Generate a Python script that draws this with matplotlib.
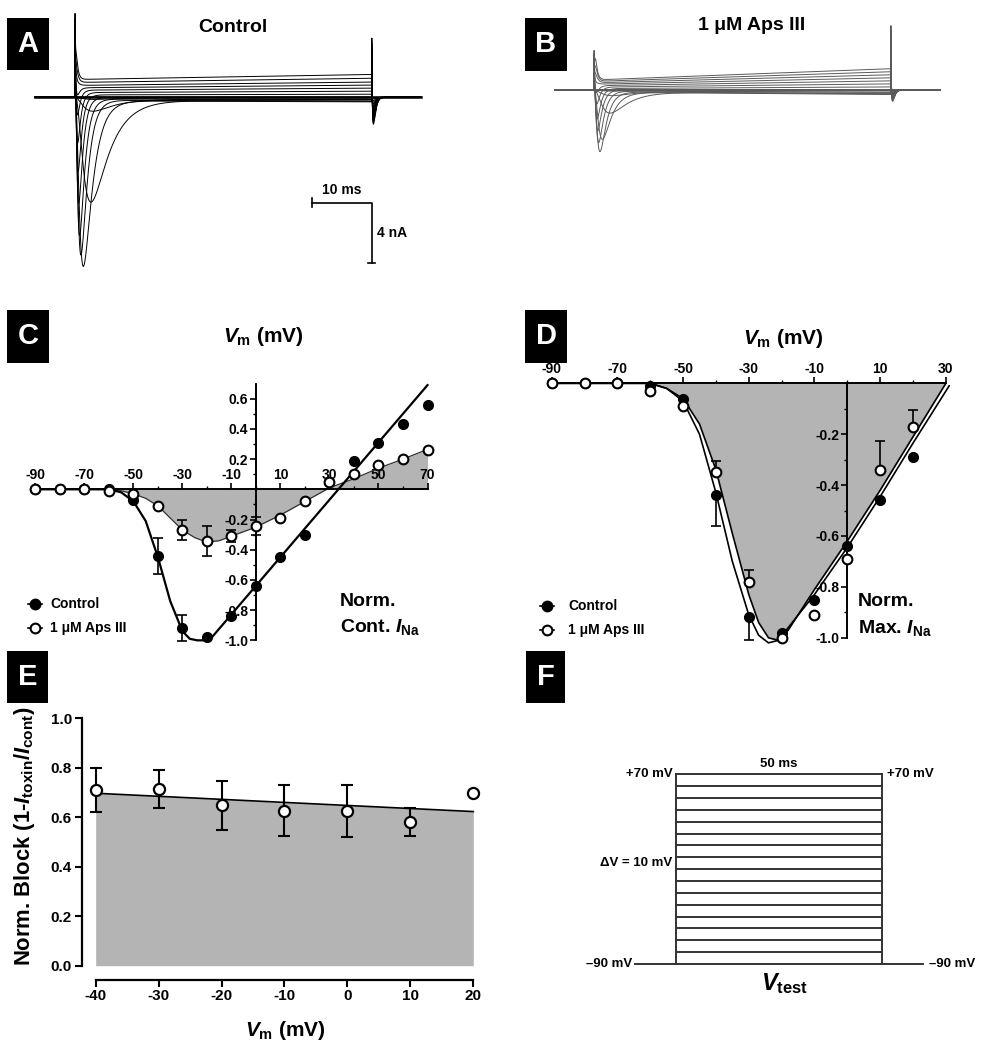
import numpy as np
import matplotlib.pyplot as plt
from matplotlib.lines import Line2D
from matplotlib.patches import Rectangle

plt.rcParams['font.family'] = ['Liberation Sans', 'DejaVu Sans']
plt.rcParams['font.weight'] = 'bold'
plt.rcParams['axes.labelweight'] = 'bold'
plt.rcParams['mathtext.fontset'] = 'custom'
plt.rcParams['mathtext.rm'] = 'Liberation Sans:bold'
plt.rcParams['mathtext.it'] = 'Liberation Sans:italic:bold'
plt.rcParams['mathtext.bf'] = 'Liberation Sans:bold'
plt.rcParams['axes.linewidth'] = 1.4

W, H = 990, 1050
GRAY = '#b4b4b4'

# ---------------- data ----------------
# sweeps of the step protocol (panel F / traces A, B)
hold_mv = -90
step_ms = 50
pre_ms = 10
sweep_mv = [-90, -80, -70, -60, -50, -40, -30, -20, -10, 0, 10, 20, 30, 40, 50, 60, 70]

ctrl_peak_na = [0, 0, 0, -0.1, -0.8, -6.7, -10.9, -10.2, -9.0, -7.0, -5.0, -3.3, -1.6, -0.4, 0.5, 1.0, 1.5]
aps_peak_na = [0, 0, 0, -0.05, -0.3, -1.4, -3.1, -3.95, -3.4, -2.7, -2.0, -1.1, -0.4, 0.2, 0.6, 1.0, 1.4]
tau_m = [1.5, 1.5, 1.5, 1.5, 1.4, 1.3, 0.7, 0.5, 0.38, 0.3, 0.25, 0.21, 0.18, 0.16, 0.14, 0.13, 0.12]
tau_h = [4.0, 4.0, 4.0, 4.0, 3.6, 3.0, 1.5, 1.05, 0.85, 0.7, 0.6, 0.52, 0.46, 0.42, 0.38, 0.35, 0.33]
ctrl_late_na = [0, 0, 0, -0.05, -0.15, -0.25, -0.3, -0.25, -0.15, 0.0, 0.2, 0.4, 0.6, 0.8, 1.0, 1.25, 1.5]
aps_late_na = [0, 0, 0, -0.05, -0.15, -0.25, -0.3, -0.25, -0.15, 0.0, 0.2, 0.4, 0.6, 0.8, 1.0, 1.2, 1.4]
ctrl_late_start = 0.78   # late current at step start, as fraction of its end value
aps_late_start = 0.47
ctrl_cap = (5.7, 4.4, 1.8)   # onset spike, offset spike up, offset dip
aps_cap = (2.7, 4.5, 0.77)
scale_ms = 10
scale_na = 4

# panel C: normalised to control peak
c_vm = [-90, -80, -70, -60, -50, -40, -30, -20, -10, 0, 10, 20, 30, 40, 50, 60, 70]
c_ctrl = [0, 0, 0, 0, -0.07, -0.44, -0.92, -0.98, -0.84, -0.64, -0.45, -0.30, 0.05, 0.19, 0.31, 0.43, 0.56]
c_ctrl_err = [0, 0, 0, 0, 0, 0.12, 0.085, 0, 0, 0, 0, 0, 0, 0, 0, 0, 0]
c_aps = [0, 0, 0, -0.01, -0.03, -0.11, -0.27, -0.34, -0.31, -0.24, -0.19, -0.08, 0.05, 0.10, 0.16, 0.20, 0.26]
c_aps_err = [0, 0, 0, 0, 0, 0, 0.065, 0.10, 0.04, 0.06, 0, 0, 0, 0, 0, 0, 0]
c_ctrl_fit_x = [-90, -60, -55, -50, -45, -40, -35, -30, -27, -24, -21, -18, 70]
c_ctrl_fit_y = [0, 0, -0.02, -0.08, -0.21, -0.45, -0.74, -0.94, -0.99, -1.0, -1.0, -0.98, 0.69]
c_aps_fit_x = [-90, -60, -55, -50, -45, -40, -35, -30, -25, -20, -15, -10, 0, 10, 20, 30, 40, 50, 60, 70]
c_aps_fit_y = [0, 0, -0.01, -0.03, -0.06, -0.11, -0.19, -0.27, -0.32, -0.35, -0.34, -0.31, -0.25,
               -0.17, -0.08, 0.01, 0.07, 0.14, 0.20, 0.265]

# panel D: each normalised to its own peak
d_vm = [-90, -80, -70, -60, -50, -40, -30, -20, -10, 0, 10, 20]
d_ctrl = [0, 0, 0, -0.01, -0.06, -0.44, -0.92, -0.98, -0.85, -0.64, -0.46, -0.29]
d_ctrl_err_lo = [0, 0, 0, 0, 0, 0.12, 0.087, 0, 0, 0, 0, 0]
d_aps = [0, 0, 0, -0.03, -0.09, -0.35, -0.78, -1.0, -0.91, -0.69, -0.34, -0.17]
d_aps_err_hi = [0, 0, 0, 0, 0, 0.046, 0.048, 0, 0, 0, 0.115, 0.067]
d_ctrl_fit_x = [-90, -60, -55, -50, -45, -40, -35, -30, -27, -24, -21, -18, -10, 0, 10, 20, 31]
d_ctrl_fit_y = [0, 0, -0.02, -0.07, -0.2, -0.43, -0.7, -0.91, -0.99, -1.02, -1.01, -0.96,
                -0.83, -0.645, -0.445, -0.235, -0.01]
d_aps_fit_x = [-90, -60, -55, -50, -45, -40, -35, -30, -27, -24, -21, -18, -10, 0, 10, 20, 30]
d_aps_fit_y = [0, 0, -0.02, -0.06, -0.16, -0.34, -0.59, -0.83, -0.94, -1.0, -1.01, -0.97,
               -0.81, -0.62, -0.42, -0.21, 0.0]

# panel E: normalised block
e_vm = [-40, -30, -20, -10, 0, 10, 20]
e_block = [0.71, 0.715, 0.648, 0.627, 0.627, 0.58, 0.70]
e_err = [0.09, 0.078, 0.10, 0.103, 0.105, 0.057, 0]
e_fit_x = [-40, 20]
e_fit_y = [0.697, 0.623]

fig = plt.figure(figsize=(W / 100, H / 100), dpi=100)


def px_axes(x0, y0, x1, y1):
    ax = fig.add_axes([x0 / W, 1 - y1 / H, (x1 - x0) / W, (y1 - y0) / H])
    ax.patch.set_visible(False)
    return ax


def panel_tag(x0, y0, x1, y1, letter):
    fig.add_artist(Rectangle((x0 / W, 1 - y1 / H), (x1 - x0) / W, (y1 - y0) / H,
                             transform=fig.transFigure, facecolor='black', edgecolor='none'))
    fig.text((x0 + x1) / 2 / W, 1 - (y0 + y1) / 2 / H, letter, color='white',
             fontsize=21, fontweight='bold', ha='center', va='center')


def legend_row(x, y, xt, filled, label):
    fig.add_artist(Line2D([(x - 7) / W, (x + 7) / W], [1 - y / H, 1 - y / H],
                          transform=fig.transFigure, color='black', lw=1.2))
    fig.add_artist(Line2D([x / W], [1 - y / H], transform=fig.transFigure,
                          marker='o', ms=7, mew=1.5, mec='black',
                          mfc='black' if filled else 'white'))
    fig.text(xt / W, 1 - y / H, label, fontsize=10, ha='left', va='center')


def trace(t, pk, tm, th, late, late0, frac, cap):
    cap_on, off_up, off_dn = cap
    cur = np.zeros_like(t)
    on = (t >= 0) & (t < step_ms)
    ts = t[on]
    g = (1 - np.exp(-ts / tm)) ** 3 * np.exp(-ts / th)
    cur[on] = (pk * g / g.max() + late * (late0 + (1 - late0) * ts / step_ms)
               * (1 - np.exp(-ts / 0.4)) + frac * cap_on * np.exp(-ts / 0.12))
    off = t >= step_ms
    to = t[off] - step_ms
    cur[off] = frac * (off_up * np.exp(-to / 0.05)
                       - off_dn * (to / 0.25) * np.exp(1 - to / 0.25))
    return cur


# ---------------- A & B: current traces ----------------
t = np.linspace(-6.74, 58.3, 13001)
axA = px_axes(30, 5, 430, 285)
axA.set_xlim(-7.58, 59.8)
axA.set_ylim(-12.35, 6.07)
axA.axis('off')
tB = np.linspace(-6.6, 58.3, 13001)
axB = px_axes(540, 5, 980, 285)
axB.set_xlim(-9.1, 65.0)
axB.set_ylim(-12.83, 5.59)
axB.axis('off')

vmax = max(sweep_mv)
for k, v in enumerate(sweep_mv):
    frac = (v - hold_mv) / (vmax - hold_mv)
    axA.plot(t, trace(t, ctrl_peak_na[k], tau_m[k], tau_h[k], ctrl_late_na[k], ctrl_late_start,
                      frac, ctrl_cap), color='black', lw=0.7)
    axB.plot(tB, trace(tB, aps_peak_na[k], tau_m[k], tau_h[k], aps_late_na[k], aps_late_start,
                       frac, aps_cap), color='#5a5a5a', lw=0.7)
axA.plot([t[0], t[-1]], [0, 0], color='black', lw=1.8)
axB.plot([tB[0], tB[-1]], [0, 0], color='#5a5a5a', lw=1.4)

# scale bar
sb_y = -6.93
axA.plot([step_ms - scale_ms, step_ms, step_ms], [sb_y, sb_y, sb_y - scale_na], color='black', lw=1.2)
axA.plot([step_ms - scale_ms] * 2, [sb_y - 0.3, sb_y + 0.3], color='black', lw=1.2)
axA.plot([step_ms - 0.6, step_ms + 0.6], [sb_y - scale_na] * 2, color='black', lw=1.2)
axA.text(step_ms - scale_ms / 2, sb_y + 0.8, f'{scale_ms} ms', ha='center', va='center', fontsize=10)
axA.text(step_ms + 0.8, sb_y - 2.0, f'{scale_na} nA', ha='left', va='center', fontsize=10)

fig.text(233 / W, 1 - 28 / H, 'Control', fontsize=14, ha='center', va='center')
fig.text(752 / W, 1 - 25 / H, '1 \u03bcM Aps III', fontsize=14, ha='center', va='center')


def iv_axes(ax, xt, xmt, yt, ymt, xb, yb):
    ax.spines['right'].set_visible(False)
    ax.spines['bottom'].set_visible(False)
    ax.spines['top'].set_position(('data', 0))
    ax.spines['left'].set_position(('data', 0))
    ax.spines['top'].set_bounds(*xb)
    ax.spines['left'].set_bounds(*yb)
    ax.xaxis.set_ticks_position('top')
    ax.set_xticks(xt, labels=[str(v) for v in xt])
    ax.set_xticks(xmt, minor=True)
    ax.set_yticks(yt, labels=[f'{v:.1f}' for v in yt])
    ax.set_yticks(ymt, minor=True)
    ax.tick_params(which='major', direction='out', length=4, width=1.2, labelsize=10, pad=1.5)
    ax.tick_params(which='minor', direction='out', length=2.5, width=1.0)


# ---------------- C ----------------
axC = px_axes(20, 375, 440, 650)
axC.set_xlim(-96.3, 75.1)
axC.set_ylim(-1.064, 0.757)
axC.fill_between(c_aps_fit_x, c_aps_fit_y, 0, color=GRAY, lw=0, zorder=1)
axC.plot(c_aps_fit_x, c_aps_fit_y, color='#333333', lw=0.9, zorder=2)
axC.plot(c_ctrl_fit_x, c_ctrl_fit_y, color='black', lw=1.6, zorder=2)
iv_axes(axC, [-90, -70, -50, -30, -10, 10, 30, 50, 70], [-80, -60, -40, -20, 0, 20, 40, 60],
        [-1.0, -0.8, -0.6, -0.4, -0.2, 0.2, 0.4, 0.6],
        [-0.9, -0.7, -0.5, -0.3, -0.1, 0.1, 0.3, 0.5], (-90, 70), (-1.0, 0.7))
axC.errorbar(c_vm, c_ctrl, yerr=c_ctrl_err, fmt='none', ecolor='black', elinewidth=1.2,
             capsize=3.5, capthick=1.2, zorder=3)
axC.errorbar(c_vm, c_aps, yerr=c_aps_err, fmt='none', ecolor='black', elinewidth=1.2,
             capsize=3.5, capthick=1.2, zorder=3)
axC.plot(c_vm, c_ctrl, 'o', ms=7, color='black', zorder=4, clip_on=False)
axC.plot(c_vm, c_aps, 'o', ms=7, mfc='white', mec='black', mew=1.5, zorder=5, clip_on=False)
fig.text(263 / W, 1 - 337 / H, '$V_\\mathrm{m}$ (mV)', fontsize=15, ha='center', va='center')
fig.text(340 / W, 1 - 602 / H, 'Norm.', fontsize=14, ha='left', va='center')
fig.text(340 / W, 1 - 627 / H, 'Cont. $I_\\mathrm{Na}$', fontsize=14, ha='left', va='center')
legend_row(35, 604, 50, True, 'Control')
legend_row(35, 628, 50, False, '1 \u03bcM Aps III')

# ---------------- D ----------------
axD = px_axes(530, 360, 960, 650)
axD.set_xlim(-96.6, 34.3)
axD.set_ylim(-1.048, 0.0916)
axD.fill_between(d_aps_fit_x, d_aps_fit_y, 0, color=GRAY, lw=0, zorder=1)
axD.plot(d_aps_fit_x, d_aps_fit_y, color='black', lw=1.2, zorder=2)
axD.plot(d_ctrl_fit_x, d_ctrl_fit_y, color='black', lw=1.2, zorder=2)
iv_axes(axD, [-90, -70, -50, -30, -10, 10, 30], [-80, -60, -40, -20, 0, 20],
        [-1.0, -0.8, -0.6, -0.4, -0.2], [-0.9, -0.7, -0.5, -0.3, -0.1], (-90, 30), (-1.0, 0))
axD.errorbar(d_vm, d_ctrl, yerr=[d_ctrl_err_lo, [0] * len(d_vm)], fmt='none', ecolor='black',
             elinewidth=1.2, capsize=3.5, capthick=1.2, zorder=3)
axD.errorbar(d_vm, d_aps, yerr=[[0] * len(d_vm), d_aps_err_hi], fmt='none', ecolor='black',
             elinewidth=1.2, capsize=3.5, capthick=1.2, zorder=3)
axD.plot(d_vm, d_ctrl, 'o', ms=7, color='black', zorder=4, clip_on=False)
axD.plot(d_vm, d_aps, 'o', ms=7, mfc='white', mec='black', mew=1.5, zorder=5, clip_on=False)
fig.text(783 / W, 1 - 338 / H, '$V_\\mathrm{m}$ (mV)', fontsize=15, ha='center', va='center')
fig.text(858 / W, 1 - 602 / H, 'Norm.', fontsize=14, ha='left', va='center')
fig.text(858 / W, 1 - 628 / H, 'Max. $I_\\mathrm{Na}$', fontsize=14, ha='left', va='center')
legend_row(547, 606, 568, True, 'Control')
legend_row(547, 630, 568, False, '1 \u03bcM Aps III')

# ---------------- E ----------------
axE = px_axes(81.7, 710, 490, 965.7)
axE.set_xlim(-42.22, 22.65)
axE.set_ylim(0, 1.0335)
axE.fill_between(e_fit_x, e_fit_y, 0, color=GRAY, lw=0, zorder=1)
axE.plot(e_fit_x, e_fit_y, color='black', lw=1.2, zorder=2)
axE.errorbar(e_vm, e_block, yerr=e_err, fmt='none', ecolor='black', elinewidth=1.5,
             capsize=4.5, capthick=1.5, zorder=3)
axE.plot(e_vm, e_block, 'o', ms=8, mfc='white', mec='black', mew=1.6, zorder=4, clip_on=False)
axE.spines['top'].set_visible(False)
axE.spines['right'].set_visible(False)
axE.spines['bottom'].set_position(('outward', 10))
axE.spines['bottom'].set_bounds(-40, 20)
axE.spines['left'].set_bounds(0, 1)
axE.spines['left'].set_linewidth(1.6)
axE.spines['bottom'].set_linewidth(1.6)
axE.set_xticks(e_vm, labels=[str(v) for v in e_vm])
yt = [0.0, 0.2, 0.4, 0.6, 0.8, 1.0]
axE.set_yticks(yt, labels=[f'{v:.1f}' for v in yt])
axE.tick_params(direction='out', length=5, width=1.5, labelsize=11, pad=2)
axE.set_ylabel('Norm. Block (1-$I_\\mathrm{toxin}$/$I_\\mathrm{cont}$)', fontsize=15.8,
               fontweight='bold')
axE.yaxis.set_label_coords(-0.109, 0.507)
axE.set_xlabel('$V_\\mathrm{m}$ (mV)', fontsize=15, fontweight='bold')
axE.xaxis.set_label_coords(0.498, -0.21)

# ---------------- F: voltage protocol ----------------
axF = px_axes(530, 700, 990, 1050)
axF.set_xlim(-35.4, 76.3)
axF.set_ylim(-162.5, 132.6)
axF.axis('off')
pc = '#333333'
for v in sweep_mv:
    axF.plot([0, step_ms], [v, v], color=pc, lw=1.4)
axF.plot([0, 0], [hold_mv, vmax], color=pc, lw=1.4)
axF.plot([step_ms, step_ms], [hold_mv, vmax], color=pc, lw=1.4)
axF.plot([-pre_ms, 0], [hold_mv, hold_mv], color=pc, lw=1.4)
axF.plot([step_ms, step_ms + pre_ms], [hold_mv, hold_mv], color=pc, lw=1.4)
axF.text(-0.8, vmax, '+70 mV', ha='right', va='center', fontsize=9.5)
axF.text(step_ms + 1.2, vmax, '+70 mV', ha='left', va='center', fontsize=9.5)
axF.text(step_ms / 2, vmax + 9, f'{step_ms} ms', ha='center', va='center', fontsize=9.5)
axF.text(-0.8, -5, '\u0394V = 10 mV', ha='right', va='center', fontsize=9.5)
axF.text(-pre_ms - 0.6, hold_mv, '\u201390 mV', ha='right', va='center', fontsize=9.5)
axF.text(step_ms + pre_ms + 1.4, hold_mv, '\u201390 mV', ha='left', va='center', fontsize=9.5)
axF.text(26.5, hold_mv - 6, '$V_\\mathrm{test}$', ha='center', va='top', fontsize=17)

# panel tags
panel_tag(7, 18, 49, 70, 'A')
panel_tag(525, 18, 567, 71, 'B')
panel_tag(7, 310, 49, 363, 'C')
panel_tag(525, 310, 567, 363, 'D')
panel_tag(7, 651, 48, 703, 'E')
panel_tag(526, 651, 565, 703, 'F')

fig.savefig('out.png', dpi=100)
